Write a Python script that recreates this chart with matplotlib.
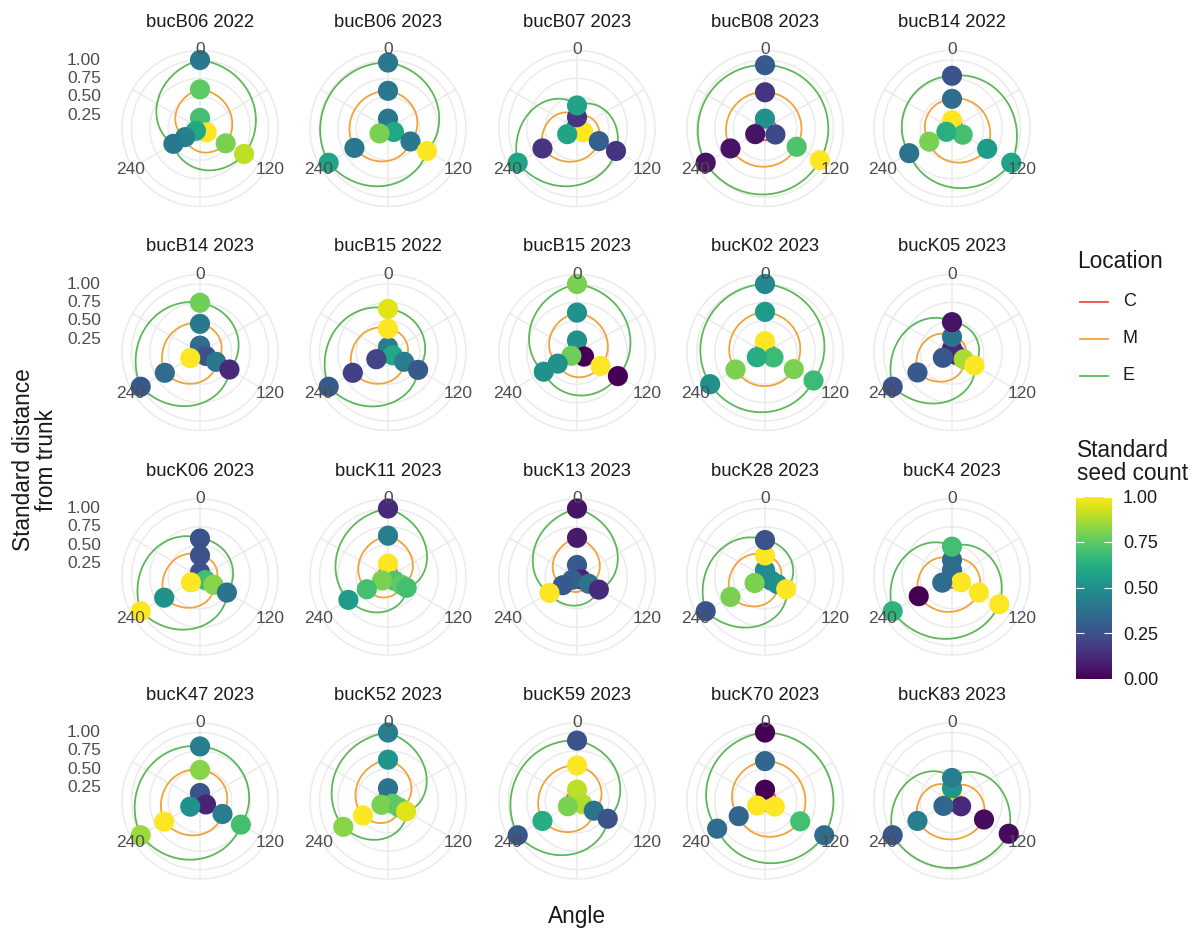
import numpy as np
import matplotlib.pyplot as plt
from matplotlib.lines import Line2D
from matplotlib.cm import ScalarMappable
from matplotlib.colors import Normalize

plt.rcParams['font.family'] = ['Liberation Sans', 'DejaVu Sans']

# trees (facet titles), in reading order
trees = ['bucB06 2022', 'bucB06 2023', 'bucB07 2023', 'bucB08 2023', 'bucB14 2022',
         'bucB14 2023', 'bucB15 2022', 'bucB15 2023', 'bucK02 2023', 'bucK05 2023',
         'bucK06 2023', 'bucK11 2023', 'bucK13 2023', 'bucK28 2023', 'bucK4 2023',
         'bucK47 2023', 'bucK52 2023', 'bucK59 2023', 'bucK70 2023', 'bucK83 2023']

angles = [0, 120, 240]

# standard distance from trunk per tree, one value per angle
dist_C = [[0.21, 0.17, 0.13], [0.20, 0.16, 0.20], [0.10, 0.165, 0.22], [0.20, 0.23, 0.22], [0.18, 0.235, 0.155],
          [0.16, 0.16, 0.22], [0.14, 0.14, 0.25], [0.23, 0.177, 0.155], [0.22, 0.20, 0.195], [0.12, 0.13, 0.21],
          [0.13, 0.15, 0.21], [0.25, 0.17, 0.16], [0.23, 0.13, 0.14], [0.16, 0.16, 0.23], [0.16, 0.21, 0.22],
          [0.175, 0.16, 0.22], [0.24, 0.14, 0.17], [0.22, 0.15, 0.21], [0.22, 0.22, 0.19], [0.12, 0.21, 0.20]]
dist_M = [[0.60, 0.47, 0.30], [0.58, 0.42, 0.595], [0.22, 0.41, 0.61], [0.56, 0.565, 0.61], [0.47, 0.62, 0.425],
          [0.457, 0.32, 0.62], [0.39, 0.32, 0.62], [0.61, 0.435, 0.37], [0.62, 0.52, 0.53], [0.28, 0.25, 0.61],
          [0.36, 0.28, 0.63], [0.63, 0.28, 0.40], [0.60, 0.25, 0.29], [0.36, 0.26, 0.61], [0.30, 0.49, 0.59],
          [0.49, 0.42, 0.63], [0.63, 0.24, 0.46], [0.55, 0.33, 0.61], [0.61, 0.62, 0.48], [0.24, 0.57, 0.61]]
dist_E = [[1.00, 0.76, 0.485], [0.966, 0.68, 1.00], [0.38, 0.68, 1.00], [0.93, 0.93, 1.00], [0.785, 1.00, 0.74],
          [0.744, 0.53, 1.00], [0.66, 0.54, 1.00], [1.00, 0.71, 0.59], [1.00, 0.83, 0.93], [0.48, 0.42, 1.00],
          [0.59, 0.49, 1.00], [1.00, 0.36, 0.69], [1.00, 0.41, 0.50], [0.57, 0.40, 1.00], [0.48, 0.81, 1.00],
          [0.81, 0.71, 1.00], [1.00, 0.35, 0.77], [0.89, 0.55, 1.00], [1.00, 1.00, 0.82], [0.38, 0.96, 1.00]]

# standard seed count per tree, one value per angle
seed_C = [[0.70, 1.00, 0.60], [0.40, 0.60, 0.80], [0.35, 1.00, 0.58], [0.50, 0.22, 0.05], [1.00, 0.70, 0.63],
          [0.35, 0.25, 1.00], [0.42, 0.60, 0.20], [0.50, 0.00, 0.78], [1.00, 0.68, 0.62], [0.10, 0.12, 0.27],
          [0.25, 0.70, 1.00], [1.00, 0.72, 0.80], [0.28, 0.10, 0.30], [0.48, 0.48, 0.80], [0.35, 1.00, 0.35],
          [0.25, 0.10, 0.50], [0.38, 0.75, 0.80], [0.90, 0.88, 0.80], [0.00, 1.00, 1.00], [1.00, 0.12, 0.33]]
seed_M = [[0.75, 0.80, 0.43], [0.40, 0.40, 0.40], [0.15, 0.30, 0.15], [0.15, 0.72, 0.05], [0.35, 0.55, 0.80],
          [0.40, 0.40, 0.35], [1.00, 0.42, 0.18], [0.50, 1.00, 0.50], [0.55, 0.80, 0.80], [0.38, 0.87, 0.28],
          [0.25, 0.82, 0.50], [0.42, 0.75, 0.70], [0.07, 0.38, 0.28], [1.00, 0.50, 0.80], [0.35, 1.00, 0.00],
          [0.82, 0.42, 1.00], [0.52, 0.75, 1.00], [1.00, 0.38, 0.62], [0.33, 0.70, 0.33], [0.52, 0.03, 0.42]]
seed_E = [[0.40, 0.90, 0.40], [0.40, 1.00, 0.58], [0.58, 0.15, 0.58], [0.28, 1.00, 0.05], [0.25, 0.58, 0.38],
          [0.78, 0.12, 0.27], [0.95, 0.28, 0.28], [0.80, 0.00, 0.50], [0.47, 0.68, 0.50], [0.05, 1.00, 0.25],
          [0.25, 0.38, 1.00], [0.12, 0.70, 0.55], [0.05, 0.12, 1.00], [0.25, 1.00, 0.25], [0.70, 1.00, 0.65],
          [0.42, 0.70, 0.85], [0.42, 0.95, 0.82], [0.25, 0.25, 0.27], [0.00, 0.35, 0.35], [0.42, 0.03, 0.27]]

locations = ['C', 'M', 'E']
loc_colors = ['#E0534D', '#F2A23A', '#5DB75A']

W, H = 1201, 936
fig = plt.figure(figsize=(W / 100, H / 100), dpi=100)

R_MIN, R_MAX = 0.066, 1.13      # radial range shown in every panel
PX = 78                          # outer circle radius in pixels
col_x = [200, 388, 577, 765, 952]
row_y = [128.5, 352.5, 577, 801]
grey = '#4d4d4d'


def ftext(x, y, s, **kw):
    fig.text(x / W, 1 - y / H, s, **kw)


for i, tree in enumerate(trees):
    cx, cy = col_x[i % 5], row_y[i // 5]
    ax = fig.add_axes([(cx - PX) / W, 1 - (cy + PX) / H, 2 * PX / W, 2 * PX / H],
                      projection='polar')
    ax.set_theta_zero_location('N')
    ax.set_theta_direction(-1)
    ax.set_ylim(R_MIN, R_MAX)
    ax.set_xticks(np.deg2rad(np.arange(0, 360, 60)))
    ax.set_yticks([0.25, 0.5, 0.75, 1.0])
    ax.set_xticklabels([])
    ax.set_yticklabels([])
    ax.tick_params(length=0)
    ax.grid(True, color='#ebebeb', lw=1.1)
    ax.spines['polar'].set_color('#ebebeb')
    ax.spines['polar'].set_linewidth(1.1)

    # closed path through the three angles; segments follow the polar spiral
    th = np.deg2rad(angles + [360])
    for dist, col in zip([dist_C, dist_M, dist_E], loc_colors):
        r = dist[i] + [dist[i][0]]
        line, = ax.plot(th, r, color=col, lw=1.3, zorder=2, clip_on=False)
        line.get_path()._interpolation_steps = 120

    for dist, seed in zip([dist_C, dist_M, dist_E], [seed_C, seed_M, seed_E]):
        ax.scatter(np.deg2rad(angles), dist[i], c=seed[i], cmap='viridis',
                   vmin=0, vmax=1, s=210, linewidths=0, zorder=3, clip_on=False)

    ftext(cx, cy - 106, tree, ha='center', va='center', fontsize=13.2, color='#1a1a1a')
    ftext(cx, cy - 78.5, '0', ha='center', va='center', fontsize=12.5, color=grey)
    ftext(cx + 70, cy + 41.5, '120', ha='center', va='center', fontsize=12.5, color=grey)
    ftext(cx - 69, cy + 41.5, '240', ha='center', va='center', fontsize=12.5, color=grey)

    if i % 5 == 0:
        for rv in [0.25, 0.5, 0.75, 1.0]:
            yy = cy - (rv - R_MIN) / (R_MAX - R_MIN) * PX
            ftext(cx - 99, yy, f'{rv:.2f}', ha='right', va='center', fontsize=12.5, color=grey)

# axis titles
ftext(577, 917, 'Angle', ha='center', va='center', fontsize=16.3, color='#1a1a1a')
ftext(35, 460, 'Standard distance\nfrom trunk', ha='center', va='center', rotation=90,
      multialignment='center', fontsize=16.3, color='#1a1a1a', linespacing=1.0)

# location legend
ftext(1077, 262, 'Location', ha='left', va='center', fontsize=16.3, color='#1a1a1a')
for k, (loc, col) in enumerate(zip(locations, loc_colors)):
    yy = 301.5 + k * 37
    fig.add_artist(Line2D([1080 / W, 1108 / W], [1 - yy / H, 1 - yy / H], color=col, lw=1.3))
    ftext(1123, yy, loc, ha='left', va='center', fontsize=13, color='#1a1a1a')

# seed count colour bar
ftext(1077, 462, 'Standard\nseed count', ha='left', va='center', fontsize=16.3,
      color='#1a1a1a', linespacing=1.0)
cax = fig.add_axes([1076 / W, 1 - 678.5 / H, 36 / W, 182 / H])
cb = fig.colorbar(ScalarMappable(norm=Normalize(0, 1), cmap='viridis'), cax=cax)
cb.outline.set_visible(False)
cb.set_ticks([0, 0.25, 0.5, 0.75, 1.0])
cb.set_ticklabels(['0.00', '0.25', '0.50', '0.75', '1.00'])
cax.yaxis.set_ticks_position('both')
cax.tick_params(direction='in', length=6, width=0.8, color='white',
                labelsize=13, labelcolor='#1a1a1a', pad=8, labelleft=False, labelright=True)

fig.savefig('out.png', dpi=100)
